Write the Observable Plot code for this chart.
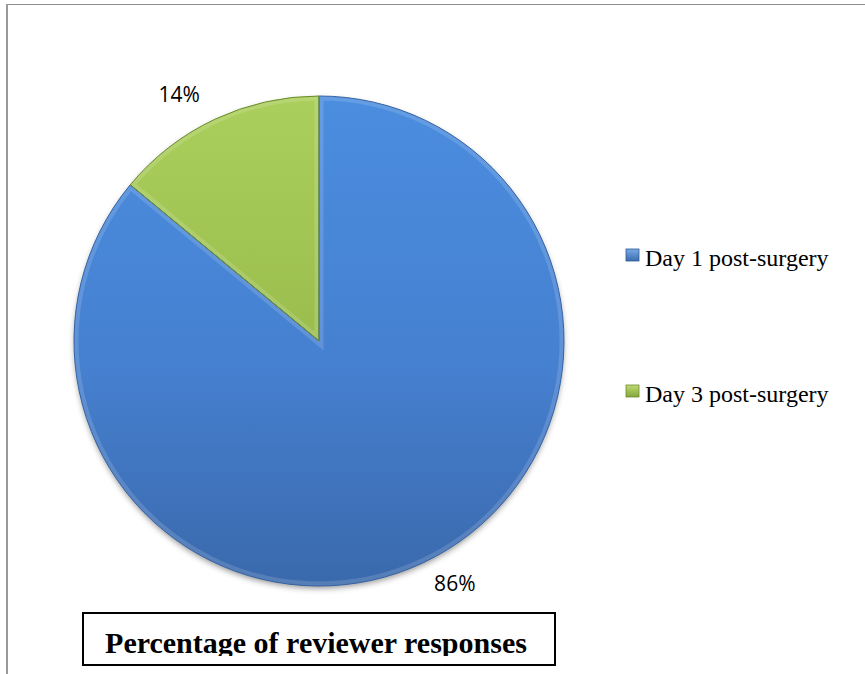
<!DOCTYPE html>
<html><head><meta charset="utf-8">
<script src="https://cdn.jsdelivr.net/npm/d3@7"></script>
<script src="https://cdn.jsdelivr.net/npm/@observablehq/plot@0.6"></script>
<style>body{margin:0;background:#fff}</style>
</head><body><div id="chart"></div>
<script>
// ---- data ----
const categories = ["Day 1 post-surgery", "Day 3 post-surgery"];
const values = [86, 14];
const valueLabels = ["86%", "14%"];
const chartTitle = "Percentage of reviewer responses";

// ---- layout (in scale units = pixels) ----
const W = 865, H = 674, CX = 319, CY = 341, R = 245;
const rows = categories.map((c, i) => ({category: c, value: values[i], label: valueLabels[i]}));
const arcs = d3.pie().sort(null).value(d => d.value)(rows);

const labelData = arcs.map(p => {
  const a = (p.startAngle + p.endAngle) / 2, rr = R * 1.07;
  return {label: p.data.label, x: CX + rr * Math.sin(a), y: CY - rr * Math.cos(a), left: Math.sin(a) < 0};
});

const fills = ["url(#gBlue)", "url(#gGreen)"];
const strokes = ["#3563a3", "#6a8a28"];
const markerFills = ["url(#mBlue)", "url(#mGreen)"];
const markerStrokes = ["#2d5b97", "#6b8a2e"];

function pieMark(index, scales) {
  const {x, y} = scales;
  const cx = x(CX), cy = y(CY), r = x(CX + R) - x(CX);
  const g = d3.create("svg:g");
  const defs = g.append("defs");
  const lg = (id, x1, y1, x2, y2, stops, units) => {
    const e = defs.append("linearGradient").attr("id", id)
      .attr("x1", x1).attr("y1", y1).attr("x2", x2).attr("y2", y2);
    if (units) e.attr("gradientUnits", units);
    stops.forEach(([o, c]) => e.append("stop").attr("offset", o).attr("stop-color", c));
  };
  lg("gBlue", 0, -r, 0, r, [[0, "#4b8ddf"], [0.55, "#4680d0"], [1, "#3a69ac"]], "userSpaceOnUse");
  lg("gGreen", 0, -r, 0, 0, [[0, "#abcf5c"], [1, "#9abd4d"]], "userSpaceOnUse");
  lg("mBlue", 0, 0, 0, 1, [[0, "#7aaae6"], [1, "#3b6cae"]]);
  lg("mGreen", 0, 0, 0, 1, [[0, "#bddb72"], [1, "#85a73c"]]);
  const f = defs.append("filter").attr("id", "shadow").attr("x", "-10%").attr("y", "-10%").attr("width", "120%").attr("height", "120%");
  f.append("feDropShadow").attr("dx", 0).attr("dy", 3).attr("stdDeviation", 3)
    .attr("flood-color", "#000").attr("flood-opacity", 0.45);

  const arc = d3.arc().innerRadius(0).outerRadius(r);
  const t = `translate(${cx},${cy})`;
  const base = g.append("g").attr("transform", t);
  base.append("circle").attr("r", r - 1).attr("fill", "#3a68aa").attr("filter", "url(#shadow)");
  const hi = g.append("g");
  const top = g.append("g").attr("transform", t);
  arcs.forEach((p, i) => {
    const d = arc(p);
    defs.append("clipPath").attr("id", "clip" + i).append("path").attr("d", d).attr("transform", t);
    base.append("path").attr("d", d).attr("fill", fills[i]);
    hi.append("g").attr("clip-path", `url(#clip${i})`).append("path")
      .attr("transform", t).attr("d", d)
      .attr("fill", "none").attr("stroke", "#fff").attr("stroke-opacity", 0.14).attr("stroke-width", 9);
    top.append("path").attr("d", d).attr("fill", "none").attr("stroke", strokes[i]).attr("stroke-width", 1);
  });
  return g.node();
}

function decorMark(index, scales) {
  const {x, y} = scales;
  const g = d3.create("svg:g").attr("text-anchor", "start");
  // outer frame (top and left edges visible)
  g.append("line").attr("x1", x(6)).attr("x2", x(W)).attr("y1", y(4.5)).attr("y2", y(4.5))
    .attr("stroke", "#8c8c8c").attr("stroke-width", 1);
  g.append("line").attr("x1", x(7)).attr("x2", x(7)).attr("y1", y(4)).attr("y2", y(H))
    .attr("stroke", "#9a9a9a").attr("stroke-width", 2);
  // legend
  const legendY = [255, 391];
  categories.forEach((c, i) => {
    g.append("rect").attr("x", x(626)).attr("y", y(legendY[i] - 6)).attr("width", 13).attr("height", 12)
      .attr("fill", markerFills[i]).attr("stroke", markerStrokes[i]).attr("stroke-width", 0.8);
    g.append("text").attr("x", x(645)).attr("y", y(legendY[i] + 11)).attr("text-anchor", "start")
      .attr("font-family", "'Liberation Serif', 'Times New Roman', serif").attr("font-size", 24)
      .attr("fill", "#000").text(c);
  });
  // title box
  const defs = g.append("defs");
  defs.append("clipPath").attr("id", "titleClip").append("rect")
    .attr("x", x(83)).attr("y", y(613)).attr("width", 472).attr("height", 43);
  g.append("rect").attr("x", x(83)).attr("y", y(613)).attr("width", 472).attr("height", 52)
    .attr("fill", "none").attr("stroke", "#000").attr("stroke-width", 2);
  g.append("text").attr("clip-path", "url(#titleClip)").attr("x", x(316)).attr("y", y(653))
    .attr("text-anchor", "middle").attr("font-family", "'Liberation Serif', 'Times New Roman', serif")
    .attr("font-weight", "bold").attr("font-size", 30).attr("fill", "#000").text(chartTitle);
  return g.node();
}

const chart = Plot.plot({
  width: W, height: H, margin: 0,
  x: {domain: [0, W], range: [0, W], axis: null},
  y: {domain: [0, H], range: [0, H], axis: null},
  style: {background: "#fff"},
  marks: [
    pieMark,
    Plot.text(labelData.filter(d => d.left), {x: "x", y: "y", text: "label", textAnchor: "end", lineAnchor: "bottom",
      dx: -8, dy: -2, fontFamily: "'Open Sans', sans-serif", fontSize: 21, fill: "#000"}),
    Plot.text(labelData.filter(d => !d.left), {x: "x", y: "y", text: "label", textAnchor: "start", lineAnchor: "top",
      dx: 3, dy: -3, fontFamily: "'Open Sans', sans-serif", fontSize: 21, fill: "#000"}),
    decorMark
  ]
});
document.getElementById("chart").appendChild(chart);
</script>
</body></html>
